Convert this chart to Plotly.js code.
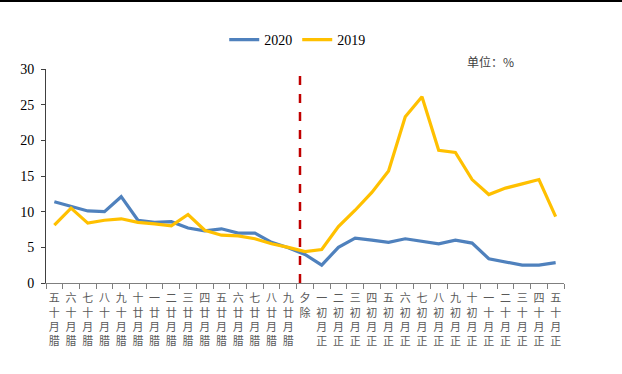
<!DOCTYPE html>
<html>
<head>
<meta charset="utf-8">
<script src="https://cdn.plot.ly/plotly-3.0.1.min.js"></script>
<style>
html,body{margin:0;padding:0;background:#fff;}
#wrap{position:relative;width:622px;height:374px;}
#topline{position:absolute;left:0;top:0;width:622px;height:2px;background:#000;z-index:5;}
#chart{width:622px;height:374px;}
</style>
</head>
<body>
<div id="wrap"><div id="topline"></div><div id="chart"></div></div>
<script>
const categories = [
  "腊月十五","腊月十六","腊月十七","腊月十八","腊月十九","腊月廿十","腊月廿一","腊月廿二",
  "腊月廿三","腊月廿四","腊月廿五","腊月廿六","腊月廿七","腊月廿八","腊月廿九","除夕",
  "正月初一","正月初二","正月初三","正月初四","正月初五","正月初六","正月初七","正月初八",
  "正月初九","正月初十","正月十一","正月十二","正月十三","正月十四","正月十五"
];
const series2020 = [11.4,10.8,10.1,10.0,12.1,8.8,8.5,8.6,7.7,7.3,7.6,7.0,7.0,5.7,4.95,
  4.0,2.5,5.0,6.3,6.0,5.7,6.2,5.9,5.5,6.0,5.6,3.4,2.9,2.5,2.5,2.85];
const series2019 = [8.1,10.5,8.4,8.8,9.0,8.5,8.3,8.0,9.6,7.4,6.7,6.6,6.2,5.5,5.0,
  4.4,4.7,7.9,10.2,12.7,15.7,23.3,26.1,18.6,18.3,14.5,12.4,13.3,13.9,14.5,9.3];
const yTicks = [0,5,10,15,20,25,30];
const dividerPos = 14.7;
const unitLabel = "单位：%";

// labels read bottom-to-top with upright glyphs, as in the reference
const tickText = categories.map(s => Array.from(s).reverse().join("<br>"));

const traces = [
  {x: categories, y: series2020, name: "2020", type: "scatter", mode: "lines",
   line: {color: "#4F81BD", width: 3.2}},
  {x: categories, y: series2019, name: "2019", type: "scatter", mode: "lines",
   line: {color: "#FFC000", width: 3.2}}
];

const layout = {
  width: 622, height: 374,
  margin: {l: 46, r: 58, t: 69, b: 91},
  paper_bgcolor: "#fff", plot_bgcolor: "#fff",
  showlegend: true,
  legend: {orientation: "h", x: 0.485, xanchor: "center", y: 1.135, yanchor: "middle",
    font: {family: "Liberation Serif", size: 14, color: "#000"}, itemwidth: 30,
    bgcolor: "rgba(0,0,0,0)"},
  xaxis: {
    type: "category", range: [-0.5, 30.5],
    tickmode: "array", tickvals: categories, ticktext: tickText, tickangle: 0,
    tickson: "boundaries", ticks: "outside", ticklen: 5, tickcolor: "#7f7f7f",
    ticklabelstandoff: 5,
    showline: true, linecolor: "#7f7f7f", linewidth: 1, showgrid: false, zeroline: false,
    tickfont: {family: "Liberation Serif, Noto Sans CJK SC", size: 11, color: "#595959"}
  },
  yaxis: {
    range: [0, 30], tickvals: yTicks, ticks: "outside", ticklen: 4, tickcolor: "#404040",
    ticklabelstandoff: 4,
    showline: true, linecolor: "#404040", linewidth: 1, showgrid: false, zeroline: false,
    tickfont: {family: "Liberation Serif", size: 14, color: "#000"}
  },
  shapes: [
    {type: "line", xref: "x", yref: "y", x0: dividerPos, x1: dividerPos, y0: 0, y1: 30,
     line: {color: "#C00000", width: 2.5, dash: "dash"}}
  ],
  annotations: [
    {text: unitLabel, xref: "paper", yref: "paper", x: 0.859, y: 1.033, showarrow: false,
     xanchor: "center", yanchor: "middle",
     font: {family: "Noto Sans CJK SC", size: 12, color: "#404040"}}
  ]
};

Plotly.newPlot("chart", traces, layout, {displayModeBar: false, staticPlot: true});
</script>
</body>
</html>
